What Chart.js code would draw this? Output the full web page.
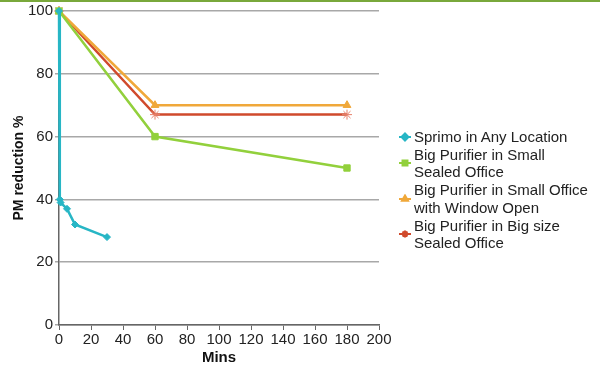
<!DOCTYPE html>
<html>
<head>
<meta charset="utf-8">
<script src="https://cdn.jsdelivr.net/npm/chart.js@4"></script>
<style>
  html, body { margin: 0; padding: 0; background: #fff; }
  #wrap { position: relative; width: 600px; height: 379px; overflow: hidden; }
  #topbar { position: absolute; left: 0; top: 0; width: 600px; height: 2px; background: #79a83b; }
  #legend { position: absolute; left: 398px; top: 128px; font-family: "Liberation Sans", Arial, sans-serif; font-size: 15px; line-height: 17.7px; color: #222; }
  .item { position: relative; padding-left: 16px; }
  .item canvas { position: absolute; left: 0; top: 50%; margin-top: -5px; }
</style>
</head>
<body>
<div id="wrap">
  <canvas id="c" width="600" height="379"></canvas>
  <div id="topbar"></div>
  <div id="legend"></div>
</div>
<script>
const seriesNames = [
  ["Sprimo in Any Location"],
  ["Big Purifier in Small", "Sealed Office"],
  ["Big Purifier in Small Office", "with Window Open"],
  ["Big Purifier in Big size", "Sealed Office"]
];
const sprimoX = [0, 0.5, 1, 5, 10, 30];
const sprimoY = [100, 40, 39, 37, 32, 28];
const smallSealedX = [0, 60, 180];
const smallSealedY = [100, 60, 50];
const windowOpenX = [0, 60, 180];
const windowOpenY = [100, 70, 70];
const bigSealedX = [0, 60, 180];
const bigSealedY = [100, 67, 67];
const xTicks = [0, 20, 40, 60, 80, 100, 120, 140, 160, 180, 200];
const yTicks = [0, 20, 40, 60, 80, 100];

const colors = ["#27b6c5", "#92d03c", "#f0a83a", "#d04a2c"];
const pointStyles = ["rectRot", "rect", "triangle", "star"];
const radii = [3.5, 4.5, 4.5, 5];
const pointBorders = [1, 1, 1, 1];

function pts(xs, ys) { return xs.map((x, i) => ({ x: x, y: ys[i] })); }
const allData = [pts(sprimoX, sprimoY), pts(smallSealedX, smallSealedY), pts(windowOpenX, windowOpenY), pts(bigSealedX, bigSealedY)];

const FONT = "'Liberation Sans', Arial, sans-serif";

const chart = new Chart(document.getElementById('c'), {
  type: 'line',
  data: {
    datasets: allData.map((d, i) => ({
      label: seriesNames[i].join(' '),
      data: d,
      borderColor: colors[i],
      backgroundColor: colors[i],
      pointBackgroundColor: colors[i],
      pointBorderColor: i === 3 ? '#e8806a' : colors[i],
      pointBorderWidth: pointBorders[i],
      pointStyle: pointStyles[i],
      pointRadius: radii[i],
      borderWidth: 2.5,
      tension: 0,
      fill: false,
      clip: false
    }))
  },
  options: {
    responsive: false,
    animation: false,
    layout: { padding: { top: 10, right: 221, left: 11, bottom: 12 } },
    plugins: { legend: { display: false }, tooltip: { enabled: false } },
    scales: {
      x: {
        type: 'linear', min: 0, max: 200,
        afterBuildTicks: s => { s.ticks = xTicks.map(v => ({ value: v })); },
        afterFit: s => { s.height = 42; },
        border: { color: '#666', width: 1.5 },
        grid: { drawOnChartArea: false, drawTicks: true, tickLength: 5, color: '#666' },
        ticks: { font: { family: FONT, size: 15 }, color: '#222', padding: 1, maxRotation: 0 },
        title: { display: true, text: 'Mins', font: { family: FONT, size: 15, weight: 'bold' }, color: '#111', padding: { top: 0, bottom: 0 } }
      },
      y: {
        min: 0, max: 100,
        afterBuildTicks: s => { s.ticks = yTicks.map(v => ({ value: v })); },
        afterFit: s => { s.width = 48; },
        border: { color: '#666', width: 1.5 },
        grid: { color: '#a8a8a8', lineWidth: 1.5, drawTicks: true, tickLength: 4 },
        ticks: { font: { family: FONT, size: 15 }, color: '#222', padding: 2 },
        title: { display: true, text: 'PM reduction %', font: { family: FONT, size: 14, weight: 'bold' }, color: '#111', padding: { top: 0, bottom: 0 } }
      }
    }
  }
});

// HTML legend with wrapped labels
const leg = document.getElementById('legend');
seriesNames.forEach((lines, i) => {
  const div = document.createElement('div');
  div.className = 'item';
  const cv = document.createElement('canvas');
  cv.width = 14; cv.height = 10;
  const ctx = cv.getContext('2d');
  ctx.strokeStyle = colors[i]; ctx.lineWidth = 2;
  ctx.beginPath(); ctx.moveTo(1, 5); ctx.lineTo(13, 5); ctx.stroke();
  ctx.fillStyle = colors[i];
  Chart.helpers.drawPoint(ctx, { pointStyle: pointStyles[i], radius: 3.5, rotation: 0, borderWidth: 1 }, 7, 5);
  ctx.fill();
  div.appendChild(cv);
  lines.forEach(t => { const s = document.createElement('div'); s.textContent = t; div.appendChild(s); });
  leg.appendChild(div);
});
</script>
</body>
</html>
